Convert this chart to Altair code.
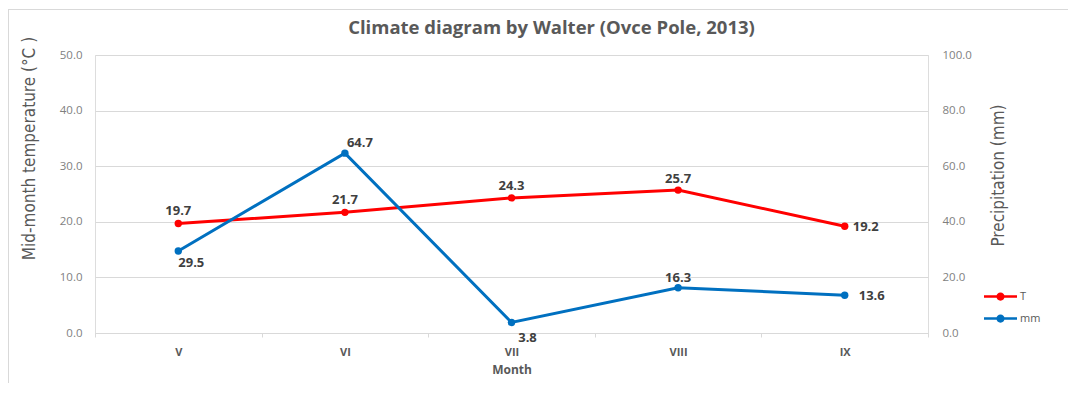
import altair as alt
import pandas as pd

# ---- data ----
months = ["V", "VI", "VII", "VIII", "IX"]
temperature = [19.7, 21.7, 24.3, 25.7, 19.2]
precipitation = [29.5, 64.7, 3.8, 16.3, 13.6]
series_names = ["T", "mm"]
temp_ticks = [0, 10, 20, 30, 40, 50]
prec_ticks = [0, 20, 40, 60, 80, 100]

df_t = pd.DataFrame({"Month": months, "value": temperature, "series": series_names[0]})
df_p = pd.DataFrame({"Month": months, "value": precipitation, "series": series_names[1]})

# ---- styling ----
COLORS = ["#FF0000", "#0070C0"]
W, H = 833, 278
PAD = {"left": 87, "top": 47, "right": 140, "bottom": 50}
LABEL_FONT = "Open Sans"
NARROW = "DejaVu Sans Condensed, Roboto, sans-serif"
GRAY_TXT = "#7f7f7f"
DARK_TXT = "#595959"
GRID = "#d9d9d9"

# label placement (dx, dy, align) per month, styling only
T_OFF = {"V": (0, -12, "center"), "VI": (0, -12, "center"), "VII": (0, -12, "center"),
         "VIII": (0, -11, "center"), "IX": (8, 1, "left")}
P_OFF = {"V": (13, 12, "center"), "VI": (15, -10, "center"), "VII": (16, 16, "center"),
         "VIII": (0, -10, "center"), "IX": (14, 1, "left")}

LEGEND_PATH = ("M-1,-0.08H1V0.08H-1Z "
               "M0.25,0A0.25,0.25 0 1,1 -0.25,0A0.25,0.25 0 1,1 0.25,0Z")

x_enc = alt.X(
    "Month:N", sort=months, bandPosition=0.5,
    scale=alt.Scale(type="band", paddingInner=0, paddingOuter=0),
    axis=alt.Axis(title="Month", labelAngle=0, labelFont=LABEL_FONT, labelFontWeight="bold",
                  labelFontSize=11, labelColor=DARK_TXT, labelPadding=9,
                  titleFont=LABEL_FONT, titleFontWeight="bold", titleFontSize=12,
                  titleColor=DARK_TXT, titlePadding=7,
                  domainColor=GRID, tickColor=GRID, tickSize=4, tickBand="extent", grid=False),
)

color_enc = alt.Color(
    "series:N",
    scale=alt.Scale(domain=series_names, range=COLORS),
    legend=alt.Legend(title=None, orient="none", legendX=889, legendY=225,
                      symbolType=LEGEND_PATH, symbolSize=1089, symbolStrokeWidth=0,
                      labelFont=LABEL_FONT, labelFontSize=11, labelColor=DARK_TXT,
                      labelOffset=3, rowPadding=-5),
)

y_t = alt.Y("value:Q", scale=alt.Scale(domain=[0, 50]),
            axis=alt.Axis(orient="left", values=temp_ticks, format=".1f", grid=True,
                          gridColor=GRID, domain=False, ticks=False, labelPadding=13,
                          labelFont=LABEL_FONT, labelFontSize=11.5, labelColor=GRAY_TXT,
                          title="Mid-month temperature (°C )", titleFont=NARROW,
                          titleFontSize=17, titleFontWeight="normal", titleColor=DARK_TXT,
                          titleAngle=270, titleAlign="center", titleBaseline="middle",
                          titleX=-66, titleY=93))

y_p = alt.Y("value:Q", scale=alt.Scale(domain=[0, 100]),
            axis=alt.Axis(orient="right", values=prec_ticks, format=".1f", grid=False,
                          domain=False, ticks=False, labelPadding=14,
                          labelFont=LABEL_FONT, labelFontSize=11.5, labelColor=GRAY_TXT,
                          title="Precipitation (mm)", titleFont=NARROW,
                          titleFontSize=17, titleFontWeight="normal", titleColor=DARK_TXT,
                          titleAngle=270, titleAlign="center", titleBaseline="middle",
                          titleX=70, titleY=120))


def series_layer(df, y_enc, offsets):
    base = alt.Chart(df).encode(x=x_enc, y=y_enc)
    line = base.mark_line(strokeWidth=3).encode(color=color_enc)
    pts = base.mark_point(filled=True, size=55, opacity=1).encode(color=color_enc)
    labels = []
    for m in months:
        dx, dy, al = offsets[m]
        labels.append(
            base.transform_filter(alt.datum.Month == m)
            .mark_text(dx=dx, dy=dy, align=al, baseline="middle", font=LABEL_FONT,
                       fontWeight="bold", fontSize=13, color="#404040")
            .encode(text=alt.Text("value:Q", format=".1f"))
        )
    return alt.layer(line, pts, *labels)


t_layer = series_layer(df_t, y_t, T_OFF)
p_layer = series_layer(df_p, y_p, P_OFF)

frame = alt.Data(values=[{}])
border_left = alt.Chart(frame).mark_rule(color=GRID, strokeWidth=1).encode(
    x=alt.value(-86.5), y=alt.value(-46), y2=alt.value(H + 60))
border_top = alt.Chart(frame).mark_rule(color=GRID, strokeWidth=1).encode(
    x=alt.value(-87), x2=alt.value(W + 160), y=alt.value(-45.5))

chart = (
    alt.layer(t_layer, p_layer, border_left, border_top)
    .resolve_scale(y="independent")
    .properties(
        width=W, height=H,
        autosize=alt.AutoSizeParams(type="none"),
        padding=PAD,
        title=alt.Title("Climate diagram by Walter (Ovce Pole, 2013)", font=LABEL_FONT,
                        fontSize=18.5, fontWeight="bold", color=DARK_TXT, anchor="middle",
                        baseline="middle", dx=40, dy=38, offset=0),
    )
    .configure_view(stroke=None)
    .configure(background="white")
)

chart.save("out.html", embed_options={"renderer": "svg", "actions": False})
